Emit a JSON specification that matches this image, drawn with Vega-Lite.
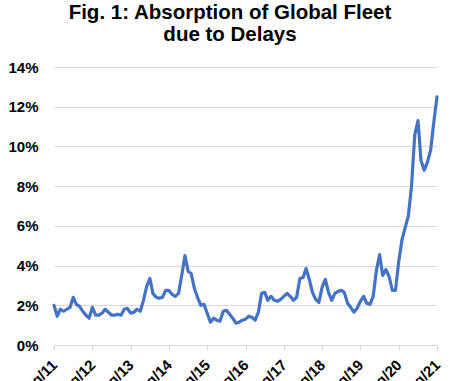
{
  "$schema": "https://vega.github.io/schema/vega-lite/v6.json",
  "autosize": "none",
  "width": 383,
  "height": 278,
  "padding": {"top": 67, "left": 54, "right": 21, "bottom": 36},
  "background": "white",
  "title": {
    "text": ["Fig. 1: Absorption of Global Fleet", "due to Delays"],
    "font": "Liberation Sans",
    "fontSize": 20.5,
    "fontWeight": "bold",
    "color": "#000000",
    "anchor": "middle",
    "dx": -15.5,
    "offset": 15,
    "lineHeight": 22
  },
  "config": {"view": {"stroke": null}},
  "data": {
    "values": [
      {"month": "2011-08-01", "pct": 2.0}, {"month": "2011-09-01", "pct": 1.45}, {"month": "2011-10-01", "pct": 1.8}, {"month": "2011-11-01", "pct": 1.7}, {"month": "2011-12-01", "pct": 1.8}, {"month": "2012-01-01", "pct": 1.9}, {"month": "2012-02-01", "pct": 2.4}, {"month": "2012-03-01", "pct": 2.05}, {"month": "2012-04-01", "pct": 1.95}, {"month": "2012-05-01", "pct": 1.7}, {"month": "2012-06-01", "pct": 1.5}, {"month": "2012-07-01", "pct": 1.35},
      {"month": "2012-08-01", "pct": 1.9}, {"month": "2012-09-01", "pct": 1.5}, {"month": "2012-10-01", "pct": 1.5}, {"month": "2012-11-01", "pct": 1.6}, {"month": "2012-12-01", "pct": 1.8}, {"month": "2013-01-01", "pct": 1.65}, {"month": "2013-02-01", "pct": 1.5}, {"month": "2013-03-01", "pct": 1.5}, {"month": "2013-04-01", "pct": 1.55}, {"month": "2013-05-01", "pct": 1.5}, {"month": "2013-06-01", "pct": 1.8}, {"month": "2013-07-01", "pct": 1.85},
      {"month": "2013-08-01", "pct": 1.6}, {"month": "2013-09-01", "pct": 1.65}, {"month": "2013-10-01", "pct": 1.8}, {"month": "2013-11-01", "pct": 1.7}, {"month": "2013-12-01", "pct": 2.25}, {"month": "2014-01-01", "pct": 2.95}, {"month": "2014-02-01", "pct": 3.35}, {"month": "2014-03-01", "pct": 2.6}, {"month": "2014-04-01", "pct": 2.4}, {"month": "2014-05-01", "pct": 2.35}, {"month": "2014-06-01", "pct": 2.4}, {"month": "2014-07-01", "pct": 2.75},
      {"month": "2014-08-01", "pct": 2.75}, {"month": "2014-09-01", "pct": 2.55}, {"month": "2014-10-01", "pct": 2.45}, {"month": "2014-11-01", "pct": 2.6}, {"month": "2014-12-01", "pct": 3.5}, {"month": "2015-01-01", "pct": 4.5}, {"month": "2015-02-01", "pct": 3.7}, {"month": "2015-03-01", "pct": 3.6}, {"month": "2015-04-01", "pct": 2.85}, {"month": "2015-05-01", "pct": 2.4}, {"month": "2015-06-01", "pct": 2.0}, {"month": "2015-07-01", "pct": 2.05},
      {"month": "2015-08-01", "pct": 1.6}, {"month": "2015-09-01", "pct": 1.15}, {"month": "2015-10-01", "pct": 1.35}, {"month": "2015-11-01", "pct": 1.25}, {"month": "2015-12-01", "pct": 1.2}, {"month": "2016-01-01", "pct": 1.7}, {"month": "2016-02-01", "pct": 1.75}, {"month": "2016-03-01", "pct": 1.55}, {"month": "2016-04-01", "pct": 1.35}, {"month": "2016-05-01", "pct": 1.1}, {"month": "2016-06-01", "pct": 1.15}, {"month": "2016-07-01", "pct": 1.25},
      {"month": "2016-08-01", "pct": 1.3}, {"month": "2016-09-01", "pct": 1.45}, {"month": "2016-10-01", "pct": 1.4}, {"month": "2016-11-01", "pct": 1.25}, {"month": "2016-12-01", "pct": 1.65}, {"month": "2017-01-01", "pct": 2.6}, {"month": "2017-02-01", "pct": 2.65}, {"month": "2017-03-01", "pct": 2.25}, {"month": "2017-04-01", "pct": 2.45}, {"month": "2017-05-01", "pct": 2.25}, {"month": "2017-06-01", "pct": 2.2}, {"month": "2017-07-01", "pct": 2.3},
      {"month": "2017-08-01", "pct": 2.45}, {"month": "2017-09-01", "pct": 2.6}, {"month": "2017-10-01", "pct": 2.45}, {"month": "2017-11-01", "pct": 2.25}, {"month": "2017-12-01", "pct": 2.4}, {"month": "2018-01-01", "pct": 3.35}, {"month": "2018-02-01", "pct": 3.4}, {"month": "2018-03-01", "pct": 3.85}, {"month": "2018-04-01", "pct": 3.3}, {"month": "2018-05-01", "pct": 2.65}, {"month": "2018-06-01", "pct": 2.3}, {"month": "2018-07-01", "pct": 2.15},
      {"month": "2018-08-01", "pct": 2.9}, {"month": "2018-09-01", "pct": 3.3}, {"month": "2018-10-01", "pct": 2.65}, {"month": "2018-11-01", "pct": 2.25}, {"month": "2018-12-01", "pct": 2.6}, {"month": "2019-01-01", "pct": 2.7}, {"month": "2019-02-01", "pct": 2.75}, {"month": "2019-03-01", "pct": 2.65}, {"month": "2019-04-01", "pct": 2.1}, {"month": "2019-05-01", "pct": 1.9}, {"month": "2019-06-01", "pct": 1.65}, {"month": "2019-07-01", "pct": 1.85},
      {"month": "2019-08-01", "pct": 2.2}, {"month": "2019-09-01", "pct": 2.45}, {"month": "2019-10-01", "pct": 2.1}, {"month": "2019-11-01", "pct": 2.05}, {"month": "2019-12-01", "pct": 2.45}, {"month": "2020-01-01", "pct": 3.75}, {"month": "2020-02-01", "pct": 4.55}, {"month": "2020-03-01", "pct": 3.5}, {"month": "2020-04-01", "pct": 3.8}, {"month": "2020-05-01", "pct": 3.45}, {"month": "2020-06-01", "pct": 2.75}, {"month": "2020-07-01", "pct": 2.75},
      {"month": "2020-08-01", "pct": 4.2}, {"month": "2020-09-01", "pct": 5.3}, {"month": "2020-10-01", "pct": 5.9}, {"month": "2020-11-01", "pct": 6.5}, {"month": "2020-12-01", "pct": 8.0}, {"month": "2021-01-01", "pct": 10.6}, {"month": "2021-02-01", "pct": 11.3}, {"month": "2021-03-01", "pct": 9.3}, {"month": "2021-04-01", "pct": 8.8}, {"month": "2021-05-01", "pct": 9.2}, {"month": "2021-06-01", "pct": 9.8}, {"month": "2021-07-01", "pct": 11.2},
      {"month": "2021-08-01", "pct": 12.5}
    ]
  },
  "mark": {"type": "line", "color": "#4472C4", "strokeWidth": 3.2, "interpolate": "linear", "strokeCap": "round", "strokeJoin": "round"},
  "encoding": {
    "x": {
      "field": "month",
      "type": "temporal",
      "title": null,
      "scale": {
        "type": "utc",
        "nice": false,
        "domain": [{"year": 2011, "month": 8, "date": 1, "utc": true}, {"year": 2021, "month": 8, "date": 1, "utc": true}]
      },
      "axis": {
        "values": [
          {"year": 2011, "month": 8, "date": 1, "utc": true},
          {"year": 2012, "month": 8, "date": 1, "utc": true},
          {"year": 2013, "month": 8, "date": 1, "utc": true},
          {"year": 2014, "month": 8, "date": 1, "utc": true},
          {"year": 2015, "month": 8, "date": 1, "utc": true},
          {"year": 2016, "month": 8, "date": 1, "utc": true},
          {"year": 2017, "month": 8, "date": 1, "utc": true},
          {"year": 2018, "month": 8, "date": 1, "utc": true},
          {"year": 2019, "month": 8, "date": 1, "utc": true},
          {"year": 2020, "month": 8, "date": 1, "utc": true},
          {"year": 2021, "month": 8, "date": 1, "utc": true}
        ],
        "labelExpr": "utcFormat(datum.value, '%b/%y')",
        "labelAngle": -45,
        "labelAlign": "right",
        "labelBaseline": "middle",
        "labelFont": "Liberation Sans",
        "labelFontSize": 15,
        "labelFontWeight": "bold",
        "labelColor": "#000000",
        "labelPadding": 12,
        "labelOverlap": false,
        "labelFlush": false,
        "grid": false,
        "domainColor": "#D9D9D9",
        "domainWidth": 1,
        "tickColor": "#D9D9D9",
        "tickSize": 5,
        "tickWidth": 1
      }
    },
    "y": {
      "field": "pct",
      "type": "quantitative",
      "title": null,
      "scale": {"domain": [0, 14], "nice": false},
      "axis": {
        "values": [0, 2, 4, 6, 8, 10, 12, 14],
        "labelExpr": "datum.value + '%'",
        "labelFont": "Liberation Sans",
        "labelFontSize": 15,
        "labelFontWeight": "bold",
        "labelColor": "#000000",
        "labelPadding": 16,
        "domain": false,
        "ticks": false,
        "grid": true,
        "gridColor": "#D9D9D9",
        "gridWidth": 1
      }
    }
  }
}
